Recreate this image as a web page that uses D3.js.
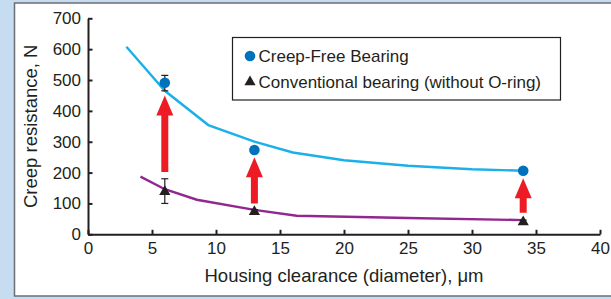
<!DOCTYPE html>
<html>
<head>
<meta charset="utf-8">
<script src="https://cdn.jsdelivr.net/npm/d3@7"></script>
<style>
  body { margin: 0; background: #c6ddf1; }
  svg text { font-family: "Liberation Sans", Arial, sans-serif; fill: #231f20; }
</style>
</head>
<body>
<div id="chart"></div>
<script>
// measured points (clearance in um, creep resistance in N)
const creepFree = [
    { x: 6, y: 491, lo: 465, hi: 515 },
    { x: 13, y: 273, lo: 273, hi: 273 },
    { x: 34, y: 206, lo: 206, hi: 206 }
];
const conventional = [
    { x: 6, y: 138, lo: 100, hi: 180 },
    { x: 13, y: 73, lo: 66, hi: 80 },
    { x: 34, y: 40, lo: 34, hi: 46 }
];
// fitted trend lines
const creepFreeCurve = [[3, 608], [6, 465], [9.4, 354], [13, 300], [16, 265], [20, 240], [25, 222], [30, 211], [34, 206]];
const conventionalCurve = [[4.1, 187], [6, 146], [8.5, 112], [13, 79], [16.3, 60], [25, 53], [34, 46]];
// red arrows showing improvement
const arrows = [
    { x: 6, from: 202, to: 450 },
    { x: 13, from: 100, to: 250 },
    { x: 34, from: 70, to: 182 }
];
const xTicks = [0, 5, 10, 15, 20, 25, 30, 35, 40];
const yTicks = [0, 100, 200, 300, 400, 500, 600, 700];
const legendLabels = ["Creep-Free Bearing", "Conventional bearing (without O-ring)"];

const width = 611, height = 299;
const dark = "#231f20";

const svg = d3.select("#chart").append("svg")
    .attr("width", width)
    .attr("height", height);

svg.append("rect")
    .attr("width", width).attr("height", height)
    .attr("fill", "#c6ddf1");

// white panel
svg.append("rect")
    .attr("x", 14.5).attr("y", 3)
    .attr("width", 620).attr("height", 293)
    .attr("fill", "white")
    .attr("stroke", "#6d6e71")
    .attr("stroke-width", 1.5);

const x = d3.scaleLinear().domain([0, 40]).range([88, 600]);
const y = d3.scaleLinear().domain([0, 700]).range([234.3, 18.3]);

// curves
const line = d3.line().x(d => x(d[0])).y(d => y(d[1]));
svg.append("path")
    .datum(creepFreeCurve)
    .attr("d", line)
    .attr("fill", "none")
    .attr("stroke", "#1cb0ea")
    .attr("stroke-width", 2.4);
svg.append("path")
    .datum(conventionalCurve)
    .attr("d", line)
    .attr("fill", "none")
    .attr("stroke", "#92278f")
    .attr("stroke-width", 2.4);

// arrows
const stemW = 3.5, headW = 8.5, headH = 20;
svg.selectAll("path.arrow")
    .data(arrows)
    .enter()
    .append("path")
    .attr("class", "arrow")
    .attr("fill", "#ed1c24")
    .attr("d", d => {
        let cx = x(d.x), yb = y(d.from), yt = y(d.to), yh = yt + headH;
        return `M${cx - stemW},${yb}L${cx - stemW},${yh}L${cx - headW},${yh}L${cx},${yt}`
            + `L${cx + headW},${yh}L${cx + stemW},${yh}L${cx + stemW},${yb}Z`;
    });

// error bars
function errorBars(data) {
    let g = svg.append("g").attr("stroke", dark).attr("stroke-width", 1.2);
    data.filter(d => d.hi > d.lo).forEach(d => {
        g.append("line").attr("x1", x(d.x)).attr("x2", x(d.x)).attr("y1", y(d.lo)).attr("y2", y(d.hi));
        g.append("line").attr("x1", x(d.x) - 3.5).attr("x2", x(d.x) + 3.5).attr("y1", y(d.lo)).attr("y2", y(d.lo));
        g.append("line").attr("x1", x(d.x) - 3.5).attr("x2", x(d.x) + 3.5).attr("y1", y(d.hi)).attr("y2", y(d.hi));
    });
}
errorBars(creepFree);
errorBars(conventional);

svg.selectAll("circle.dot")
    .data(creepFree)
    .enter()
    .append("circle")
    .attr("class", "dot")
    .attr("cx", d => x(d.x))
    .attr("cy", d => y(d.y))
    .attr("r", 5.3)
    .attr("fill", "#0072bc");

const tri = d3.symbol(d3.symbolTriangle, 54);
svg.selectAll("path.tri")
    .data(conventional)
    .enter()
    .append("path")
    .attr("class", "tri")
    .attr("transform", d => `translate(${x(d.x)},${y(d.y)})`)
    .attr("d", tri)
    .attr("fill", dark);

// axes
const xAxis = d3.axisBottom(x).tickValues(xTicks).tickSizeInner(-4.5).tickSizeOuter(0).tickPadding(8);
const yAxis = d3.axisLeft(y).tickValues(yTicks).tickSizeInner(-4.5).tickSizeOuter(0).tickPadding(7);

const gx = svg.append("g")
    .attr("transform", `translate(0,${y(0)})`)
    .call(xAxis);
const gy = svg.append("g")
    .attr("transform", `translate(${x(0)},0)`)
    .call(yAxis);

[gx, gy].forEach(g => {
    g.select(".domain").attr("stroke", dark).attr("stroke-width", 2);
    g.selectAll(".tick line").attr("stroke", dark).attr("stroke-width", 2);
    g.selectAll(".tick text")
        .style("font-family", "'Liberation Sans', Arial, sans-serif")
        .style("font-size", "17px")
        .attr("fill", dark);
});

svg.append("text")
    .attr("x", (x(0) + x(40)) / 2)
    .attr("y", 281.5)
    .attr("text-anchor", "middle")
    .style("font-size", "18.5px")
    .text("Housing clearance (diameter), μm");

svg.append("text")
    .attr("transform", `translate(37,${(y(0) + y(700)) / 2}) rotate(-90)`)
    .attr("text-anchor", "middle")
    .style("font-size", "18.5px")
    .text("Creep resistance, N");

// legend
const legend = svg.append("g").attr("transform", "translate(232.5,37.5)");
legend.append("rect")
    .attr("width", 328).attr("height", 62.5)
    .attr("fill", "white")
    .attr("stroke", dark)
    .attr("stroke-width", 1.2);
legend.append("circle")
    .attr("cx", 17.5).attr("cy", 18.5).attr("r", 5.3)
    .attr("fill", "#0072bc");
legend.append("path")
    .attr("transform", "translate(17.5,44.5)")
    .attr("d", tri)
    .attr("fill", dark);
legend.selectAll("text.lbl")
    .data(legendLabels)
    .enter()
    .append("text")
    .attr("class", "lbl")
    .attr("x", 26)
    .attr("y", (d, i) => 24.5 + i * 25.5)
    .style("font-size", "17px")
    .text(d => d);
</script>
</body>
</html>
